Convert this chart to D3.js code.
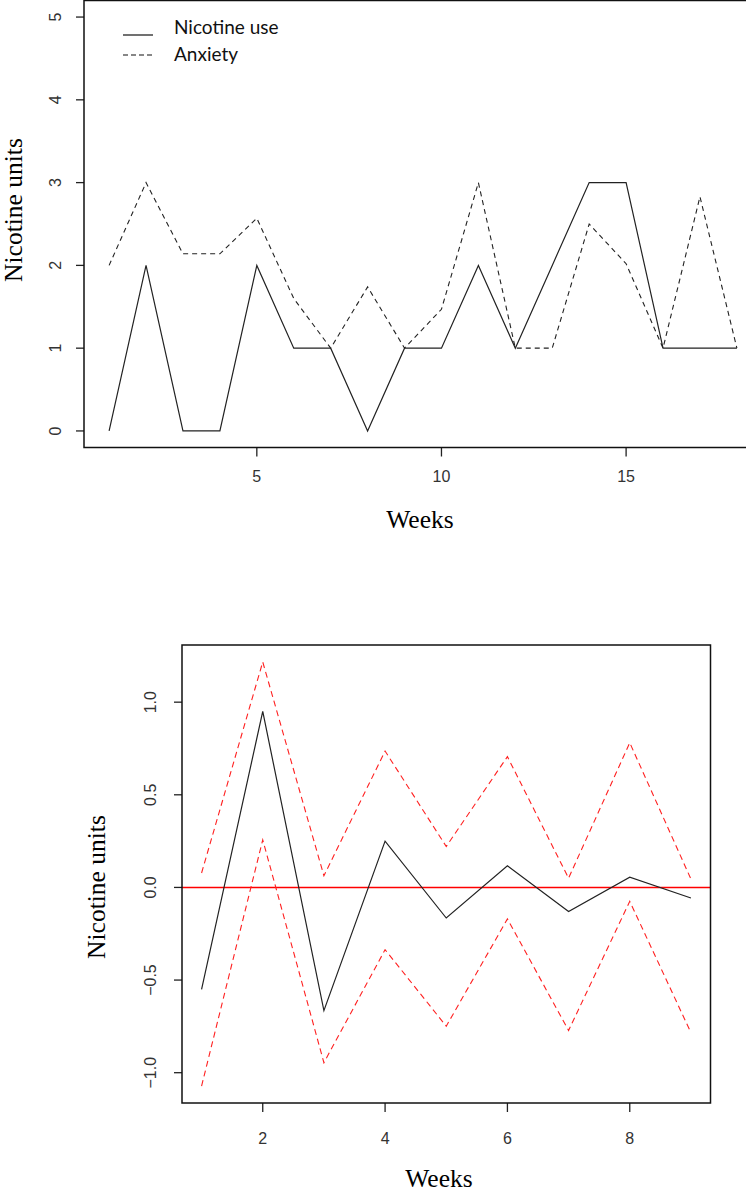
<!DOCTYPE html>
<html>
<head>
<meta charset="utf-8">
<script src="https://cdn.jsdelivr.net/npm/d3@7"></script>
<style>
  body { margin: 0; background: #fff; }
  svg { display: block; }
  .tick-label { font-family: "Liberation Sans", Arial, sans-serif; font-size: 16px; fill: #333; }
  .axis-title { font-family: "Liberation Serif", "Times New Roman", serif; font-size: 25.5px; fill: #000; }
  .legend-text { font-family: Lato, "Open Sans", sans-serif; font-size: 19px; fill: #111; }
</style>
</head>
<body>
<div class="container"></div>
<script>
// top panel: weekly nicotine use and anxiety
const weeks = d3.range(1, 19)
const nicotineUse = [0, 2, 0, 0, 2, 1, 1, 0, 1, 1, 2, 1, 2, 3, 3, 1, 1, 1]
const anxiety = [2, 3, 2.14, 2.14, 2.57, 1.6, 1, 1.74, 1, 1.47, 3, 1, 1, 2.5, 2.02, 1, 2.83, 1]
const topXTicks = [5, 10, 15]
const topYTicks = [0, 1, 2, 3, 4, 5]
const legendLabels = ['Nicotine use', 'Anxiety']

// bottom panel: fitted values and bounds
const weeks2 = d3.range(1, 10)
const fitted = [-0.55, 0.95, -0.665, 0.25, -0.165, 0.117, -0.13, 0.055, -0.057]
const upper = [0.078, 1.217, 0.063, 0.736, 0.221, 0.706, 0.05, 0.781, 0.045]
const lower = [-1.072, 0.257, -0.946, -0.336, -0.749, -0.17, -0.772, -0.075, -0.784]
const bottomXTicks = [2, 4, 6, 8]
const bottomYTicks = [-1, -0.5, 0, 0.5, 1]

const W = 746, H = 1195

const svg = d3.select('.container')
    .append('svg')
    .attr('width', W)
    .attr('height', H)

// R style 4% padding on the data range
const padded = (ext) => {
    const p = (ext[1] - ext[0]) * 0.04
    return [ext[0] - p, ext[1] + p]
}

const panel = (cfg) => {
    const g = svg.append('g')
    const x = d3.scaleLinear().domain(padded(d3.extent(cfg.xs))).range([cfg.left, cfg.right])
    const y = d3.scaleLinear().domain(padded(cfg.yExt)).range([cfg.bottom, cfg.top])

    // ticks on the bottom
    g.selectAll('.xt').data(cfg.xTicks).enter().append('line')
        .attr('x1', d => x(d)).attr('x2', d => x(d))
        .attr('y1', cfg.bottom).attr('y2', cfg.bottom + 9)
        .attr('stroke', '#222').attr('stroke-width', 1.3)
    g.selectAll('.xl').data(cfg.xTicks).enter().append('text')
        .attr('class', 'tick-label')
        .attr('x', d => x(d)).attr('y', cfg.xLabelY)
        .attr('text-anchor', 'middle')
        .text(d => cfg.xFmt(d))

    // ticks on the left, labels parallel to the axis
    g.selectAll('.yt').data(cfg.yTicks).enter().append('line')
        .attr('x1', cfg.left - 8).attr('x2', cfg.left)
        .attr('y1', d => y(d)).attr('y2', d => y(d))
        .attr('stroke', '#222').attr('stroke-width', 1.3)
    g.selectAll('.yl').data(cfg.yTicks).enter().append('text')
        .attr('class', 'tick-label')
        .attr('transform', d => `translate(${cfg.yLabelX},${y(d)}) rotate(-90)`)
        .attr('text-anchor', 'middle')
        .text(d => cfg.yFmt(d))

    // axis titles
    g.append('text').attr('class', 'axis-title')
        .attr('x', cfg.xTitle[0]).attr('y', cfg.xTitle[1])
        .attr('text-anchor', 'middle')
        .text('Weeks')
    g.append('text').attr('class', 'axis-title')
        .attr('transform', `translate(${cfg.yTitle[0]},${cfg.yTitle[1]}) rotate(-90)`)
        .attr('text-anchor', 'middle')
        .text('Nicotine units')

    return { g, x, y }
}

// ---- top panel ----
const p1 = panel({
    xs: weeks, yExt: [0, 5],
    left: 84, right: 762, top: 0.5, bottom: 447.5,
    xTicks: topXTicks, yTicks: topYTicks,
    xFmt: d3.format('d'), yFmt: d3.format('d'),
    xLabelY: 482, yLabelX: 61,
    xTitle: [420, 528], yTitle: [22, 210]
})

const line1 = d3.line().x((d, i) => p1.x(weeks[i])).y(d => p1.y(d))

p1.g.append('path').datum(anxiety)
    .attr('d', line1)
    .attr('fill', 'none').attr('stroke', '#222').attr('stroke-width', 1.1)
    .attr('stroke-dasharray', '5,4')
p1.g.append('path').datum(nicotineUse)
    .attr('d', line1)
    .attr('fill', 'none').attr('stroke', '#222').attr('stroke-width', 1.2)

p1.g.append('rect')
    .attr('x', 84).attr('y', 0.5).attr('width', 678).attr('height', 447)
    .attr('fill', 'none').attr('stroke', '#111').attr('stroke-width', 1.5)

// legend
const leg = p1.g.selectAll('.leg').data(legendLabels).enter().append('g')
leg.append('line')
    .attr('x1', 123).attr('x2', 153)
    .attr('y1', (d, i) => 35 + i * 20).attr('y2', (d, i) => 35 + i * 20)
    .attr('stroke', '#111').attr('stroke-width', 1.2)
    .attr('stroke-dasharray', (d, i) => i === 1 ? '5,3' : null)
leg.append('text').attr('class', 'legend-text')
    .attr('x', 174).attr('y', (d, i) => 34 + i * 27)
    .text(d => d)

// ---- bottom panel ----
const p2 = panel({
    xs: weeks2, yExt: d3.extent([...fitted, ...upper, ...lower]),
    left: 182, right: 710.5, top: 645, bottom: 1103,
    xTicks: bottomXTicks, yTicks: bottomYTicks,
    xFmt: d3.format('d'), yFmt: d3.format('.1f'),
    xLabelY: 1144, yLabelX: 156,
    xTitle: [439, 1187], yTitle: [105, 887]
})

const line2 = d3.line().x((d, i) => p2.x(weeks2[i])).y(d => p2.y(d))

p2.g.append('line')
    .attr('x1', 182).attr('x2', 710.5)
    .attr('y1', p2.y(0)).attr('y2', p2.y(0))
    .attr('stroke', '#ff0000').attr('stroke-width', 1.6)

p2.g.selectAll('.band').data([upper, lower]).enter().append('path')
    .attr('d', line2)
    .attr('fill', 'none').attr('stroke', '#ff2020').attr('stroke-width', 1.1)
    .attr('stroke-dasharray', '6,4')

p2.g.append('path').datum(fitted)
    .attr('d', line2)
    .attr('fill', 'none').attr('stroke', '#222').attr('stroke-width', 1.2)

p2.g.append('rect')
    .attr('x', 182).attr('y', 645).attr('width', 528.5).attr('height', 458)
    .attr('fill', 'none').attr('stroke', '#111').attr('stroke-width', 1.5)
</script>
</body>
</html>
